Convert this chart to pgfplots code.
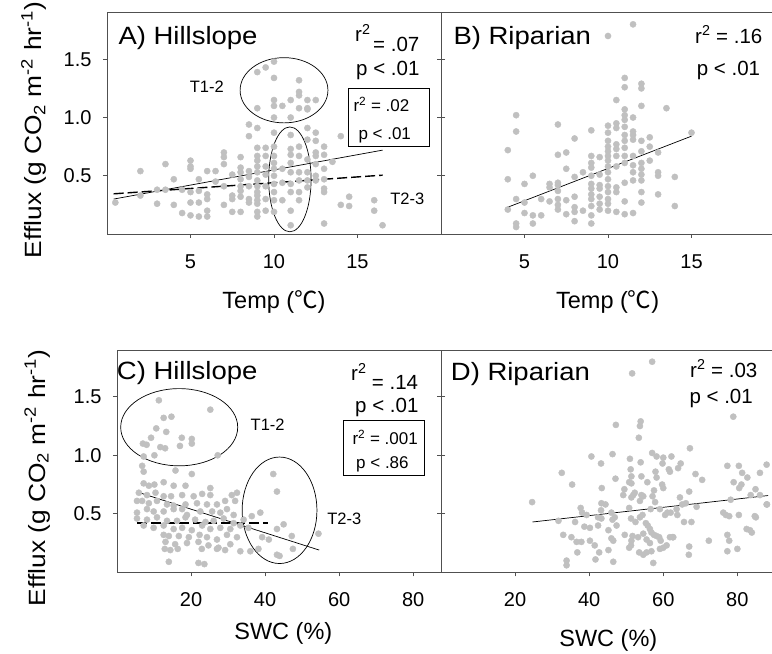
\documentclass[border=0pt]{standalone}
\usepackage{graphicx}
\usepackage{fontspec}
\setmainfont{Liberation Sans}
\newfontfamily\cjk{Noto Sans CJK SC}
\usepackage{pgfplots}
\pgfplotsset{compat=1.18}
\definecolor{dotgray}{RGB}{192,192,192}
\definecolor{axgray}{RGB}{80,80,80}

\newcommand{\titlefont}{\fontsize{25}{30}\selectfont}
\newcommand{\statfont}{\fontsize{20.5}{24}\selectfont}
\newcommand{\boxfont}{\fontsize{17}{20}\selectfont}
\newcommand{\tfont}{\fontsize{16.5}{20}\selectfont}
\newcommand{\labfont}{\fontsize{23.5}{28}\selectfont}
\newcommand{\ttl}[1]{\scalebox{1.1}[1]{#1}}
\newcommand{\efflux}{\scalebox{1.12}[1]{Efflux (g CO\textsubscript{2} m\textsuperscript{-2} hr\textsuperscript{-1})}}

\pgfplotsset{
  panel/.style={
    scale only axis, anchor=south west, clip=false,
    axis line style={axgray, line width=0.9pt},
    tick style={axgray, line width=0.8pt},
    major tick length=4pt, tick align=outside,
    xtick pos=bottom, ytick pos=both, yticklabel pos=left,
    ymin=0, ymax=1.9, ytick={0.5,1,1.5},
    /pgf/number format/assume math mode=true,
    tick label style={font=\fontsize{20}{24}\selectfont},
    yticklabel style={/pgf/number format/fixed, /pgf/number format/fixed zerofill,
      /pgf/number format/precision=1, xshift=-8pt},
    xticklabel style={yshift=-13pt},
  },
  dots/.style={only marks, mark=*, mark size=3.1pt, color=dotgray,
    mark options={draw=none, fill=dotgray}},
  fit/.style={black, line width=0.7pt},
  fitdash/.style={black, line width=1.4pt, dash pattern=on 10pt off 4pt},
}

\begin{document}
\begin{tikzpicture}[x=1pt, y=1pt]

% A) Hillslope, temperature
\begin{axis}[panel, at={(107pt,420pt)}, width=334pt, height=221.3pt,
  xmin=0, xmax=20, xtick={5,10,15}]
\addplot[dots] coordinates {
(0.5,0.27)(2,0.54)(2,0.33)(3,0.38)(3,0.26)(3.5,0.60)(3.5,0.38)(4,0.47)(4,0.25)(4.5,0.38)(4.5,0.18)
(5,0.63)(5,0.58)(5,0.56)(5,0.36)(5,0.27)(5,0.16)
(5.5,0.47)(5.5,0.37)(5.5,0.27)(5.5,0.15)
(6,0.54)(6,0.34)(6,0.30)(6,0.20)(6,0.15)
(6.5,0.54)(6.5,0.45)
(7,0.70)(7,0.66)(7,0.60)(7,0.41)(7,0.25)
(7.5,0.51)(7.5,0.33)(7.5,0.30)(7.5,0.19)
(8,0.66)(8,0.57)(8,0.53)(8,0.47)(8,0.41)(8,0.37)(8,0.32)(8,0.19)
(8.5,0.94)(8.5,0.84)(8.5,0.54)(8.5,0.49)(8.5,0.41)(8.5,0.30)(8.5,0.27)
(9,1.39)(9,1.08)(9,0.91)(9,0.74)(9,0.67)(9,0.63)(9,0.58)(9,0.53)(9,0.46)(9,0.41)(9,0.36)(9,0.33)(9,0.29)(9,0.26)(9,0.19)(9,0.15)
(9.5,1.43)(9.5,0.74)(9.5,0.67)(9.5,0.58)(9.5,0.51)(9.5,0.41)(9.5,0.30)(9.5,0.20)
(10,1.48)(10,1.34)(10,1.15)(10,1.10)(10,1.00)(10,0.87)(10,0.75)(10,0.67)(10,0.61)(10,0.56)(10,0.50)(10,0.43)(10,0.36)(10,0.29)(10,0.19)
(10.5,1.10)(10.5,0.56)(10.5,0.44)(10.5,0.29)
(11,1.15)(11,1.00)(11,0.85)(11,0.73)(11,0.68)(11,0.61)(11,0.53)(11,0.43)(11,0.36)(11,0.20)(11,0.075)
(11.5,1.32)(11.5,1.22)(11.5,1.19)(11.5,1.08)(11.5,0.75)(11.5,0.67)(11.5,0.53)(11.5,0.46)(11.5,0.36)(11.5,0.29)
(12,1.15)(12,1.08)(12,1.07)(12,0.91)(12,0.81)(12,0.64)(12,0.53)(12,0.46)(12,0.40)
(12.5,1.15)(12.5,0.87)(12.5,0.80)(12.5,0.70)(12.5,0.67)(12.5,0.60)(12.5,0.50)(12.5,0.46)
(13,0.75)(13,0.68)(13,0.56)(13,0.47)(13,0.39)(13,0.36)(13,0.09)
(13.5,0.62)(14,0.84)(14,0.25)(14.5,0.32)(14.5,0.24)(16,0.29)(16,0.20)(16.5,0.075)
};
\addplot[fit] coordinates {(0.4,0.30)(16.5,0.72)};
\addplot[fitdash] coordinates {(0.4,0.345)(16.5,0.505)};
\draw[black, line width=0.7pt] (axis cs:10.6,1.234) ellipse [x radius=2.63, y radius=0.28];
\draw[black, line width=0.7pt] (axis cs:10.95,0.469) ellipse [x radius=1.27, y radius=0.45];
\node[font=\tfont] at (axis cs:5.98,1.26) {T1-2};
\node[font=\tfont] at (axis cs:17.98,0.30) {T2-3};
\end{axis}

% B) Riparian, temperature
\begin{axis}[panel, at={(441pt,420pt)}, width=334pt, height=221.3pt,
  xmin=0, xmax=20, xtick={5,10,15}, yticklabels={}]
\addplot[dots] coordinates {
(4,0.72)(4,0.47)(4,0.21)(4.5,1.02)(4.5,0.88)(4.5,0.30)(4.5,0.09)(4.5,0.06)
(5,0.27)(5,0.18)(5,0.43)(5.5,0.50)(5.5,0.16)(5.5,0.09)(6,0.30)(6,0.16)
(6.5,0.43)(6.5,0.40)(6.5,0.28)
(7,0.94)(7,0.68)(7,0.44)(7,0.42)(7,0.37)(7,0.30)(7,0.25)(7,0.21)
(7.5,0.70)(7.5,0.56)(7.5,0.29)(7.5,0.17)
(8,0.82)(8,0.49)(8,0.32)(8,0.23)(8,0.19)(8,0.11)
(8.5,0.53)(8.5,0.20)
(9,0.89)(9,0.67)(9,0.61)(9,0.57)(9,0.50)(9,0.43)(9,0.39)(9,0.34)(9,0.30)(9,0.24)(9,0.16)(9,0.09)
(9.5,0.66)(9.5,0.51)(9.5,0.42)(9.5,0.39)(9.5,0.32)(9.5,0.26)(9.5,0.21)
(10,1.70)(10,0.93)(10,0.87)(10,0.80)(10,0.75)(10,0.71)(10,0.67)(10,0.63)(10,0.58)(10,0.53)(10,0.47)(10,0.41)(10,0.36)(10,0.30)(10,0.26)(10,0.20)
(10.5,1.15)(10.5,0.95)(10.5,0.91)(10.5,0.77)(10.5,0.73)(10.5,0.67)(10.5,0.58)(10.5,0.40)(10.5,0.36)(10.5,0.19)
(11,1.34)(11,1.26)(11,1.07)(11,1.02)(11,0.98)(11,0.92)(11,0.85)(11,0.80)(11,0.74)(11,0.67)(11,0.61)(11,0.44)(11,0.28)(11,0.17)
(11.5,1.80)(11.5,1.00)(11.5,0.88)(11.5,0.85)(11.5,0.81)(11.5,0.67)(11.5,0.59)(11.5,0.53)(11.5,0.46)(11.5,0.18)
(12,1.29)(12,1.25)(12,1.10)(12,0.80)(12,0.71)(12,0.61)(12,0.56)(12,0.51)(12,0.46)(12,0.36)(12,0.27)
(12.5,0.83)(12.5,0.75)(12.5,0.63)
(13,0.70)(13,0.53)(13,0.50)(13,0.34)
(13.5,1.08)(14,0.49)(14,0.24)(15,0.87)
};
\addplot[fit] coordinates {(4,0.23)(15,0.84)};
\end{axis}

% C) Hillslope, soil water content
\begin{axis}[panel, at={(117pt,81.7pt)}, width=324pt, height=222.3pt,
  xmin=0, xmax=87.5, xtick={20,40,60,80}]
\addplot[dots] coordinates {
(11.3,1.47)(12.6,1.32)(14.7,1.33)(10.6,1.23)(13.3,1.20)(25.2,1.39)(9.2,1.15)(11.7,1.07)(13.0,1.06)
(17.5,1.15)(20.2,1.14)(20.2,1.10)(17.0,1.08)(7.0,1.10)(8.0,1.09)(7.2,0.99)(10.1,1.00)(6.8,0.91)
(7.2,0.86)(15.8,0.87)(20.2,0.84)(27.2,1.00)
(7.2,0.76)(8.6,0.74)(10.1,0.75)(12.6,0.77)(15.3,0.74)(18.5,0.74)
(5.9,0.68)(8.1,0.66)(10.4,0.68)(12.6,0.65)(14.6,0.65)(17.6,0.66)(20.7,0.65)(23.0,0.67)(25.2,0.66)(25.2,0.72)
(5.4,0.61)(6.8,0.61)(8.6,0.59)(10.8,0.61)(13.5,0.58)(15.3,0.57)(18.5,0.58)(21.6,0.59)(24.3,0.58)(27.0,0.58)
(29.2,0.61)(31.0,0.66)(32.4,0.68)(31.9,0.61)
(5.4,0.51)(8.1,0.54)(9.9,0.52)(12.6,0.52)(15.3,0.54)(17.6,0.54)(18.9,0.49)(22.5,0.52)(25.7,0.52)(27.9,0.51)
(29.7,0.54)(31.5,0.49)
(5.4,0.46)(8.1,0.45)(10.8,0.47)(13.5,0.44)(16.2,0.44)(18.5,0.47)(21.1,0.45)(23.9,0.43)(26.1,0.44)(28.8,0.46)
(31.5,0.42)(34.2,0.45)(36.4,0.48)(38.7,0.51)
(7.2,0.40)(9.9,0.38)(12.6,0.40)(15.3,0.37)(17.6,0.38)(20.2,0.36)(23.0,0.40)(25.2,0.37)(27.9,0.38)(30.6,0.37)
(33.3,0.40)(35.5,0.38)(45.0,0.41)
(12.6,0.32)(14.0,0.31)(16.7,0.31)(19.4,0.30)(22.3,0.32)(24.3,0.30)(27.0,0.28)(29.7,0.32)(32.4,0.30)(39.2,0.30)
(41.0,0.28)(43.2,0.37)(47.2,0.31)(54.4,0.33)
(13.1,0.26)(15.7,0.24)(18.9,0.25)(22.0,0.26)(24.7,0.23)(27.4,0.21)(30.6,0.24)
(12.9,0.20)(14.4,0.19)(16.4,0.20)(22.9,0.20)(27.0,0.20)(29.2,0.19)(33.3,0.18)(36.0,0.18)(38.2,0.20)
(43.2,0.15)(43.9,0.14)(47.5,0.20)(14.0,0.09)(22.0,0.08)(23.6,0.07)(42.2,0.84)(43.2,0.69)
};
\addplot[fit] coordinates {(5.7,0.684)(54.6,0.19)};
\addplot[fitdash] coordinates {(5.4,0.423)(40.9,0.423)};
\draw[black, line width=0.7pt] (axis cs:16.8,1.24) ellipse [x radius=15.8, y radius=0.33];
\draw[black, line width=0.7pt] (axis cs:43.9,0.53) ellipse [x radius=10.1, y radius=0.455];
\node[font=\tfont] at (axis cs:40.7,1.265) {T1-2};
\node[font=\tfont] at (axis cs:61.4,0.46) {T2-3};
\end{axis}

% D) Riparian, soil water content
\begin{axis}[panel, at={(441pt,81.7pt)}, width=333.4pt, height=222.3pt,
  xmin=0, xmax=90, xtick={20,40,60,80}, yticklabels={}]
\addplot[dots] coordinates {
(57.0,1.80)(51.6,1.70)(78.9,1.33)(47.2,1.26)(53.9,1.29)(53.7,1.25)(53.4,1.15)
(40.6,0.99)(43.2,0.93)(46.3,1.01)(51.0,0.97)(53.9,0.94)(57.0,1.02)(58.2,0.99)(60.0,0.98)(59.8,0.93)
(62.2,0.99)(61.5,0.88)(61.8,0.86)(64.0,0.89)(64.7,0.93)(67.2,1.06)
(32.6,0.85)(35.4,0.75)(47.1,0.80)(51.2,0.88)(51.4,0.82)(50.8,0.77)(51.4,0.76)(54.1,0.82)(55.7,0.77)
(57.9,0.86)(58.2,0.81)(59.7,0.75)(60.0,0.72)(57.5,0.70)(68.7,0.84)(70.5,0.79)
(77.3,0.91)(80.4,0.91)(81.3,0.85)(82.7,0.81)(86.1,0.85)(87.9,0.92)(79.0,0.77)(81.1,0.75)(80.5,0.72)
(84.9,0.71)(83.6,0.66)(86.1,0.66)(87.9,0.58)(78.2,0.62)
(43.4,0.72)(49.5,0.71)(49.2,0.66)(51.4,0.64)(51.9,0.66)(52.3,0.68)(54.1,0.66)(54.6,0.65)(53.7,0.61)
(57.1,0.65)(57.8,0.60)(64.5,0.64)(67.0,0.69)
(24.6,0.60)(43.3,0.59)(44.4,0.58)(46.0,0.51)(46.9,0.47)(46.3,0.45)(43.2,0.53)(42.4,0.47)(43.3,0.46)
(37.7,0.55)(38.1,0.51)(39.3,0.49)(36.2,0.43)(31.7,0.44)
(50.8,0.55)(51.3,0.46)(52.5,0.43)(53.7,0.47)(54.4,0.49)(56.6,0.54)(59.1,0.54)(61.1,0.51)(60.5,0.49)
(62.0,0.51)(63.6,0.54)(63.8,0.49)(65.1,0.58)(66.1,0.59)(69.0,0.56)(65.6,0.43)(67.6,0.43)
(76.2,0.51)(76.9,0.49)(77.8,0.48)(80.4,0.49)(84.7,0.48)(85.0,0.47)(88.0,0.58)
(38.7,0.39)(40.2,0.38)(42.4,0.40)(45.2,0.36)(47.4,0.40)(49.6,0.32)(51.7,0.31)(51.4,0.27)(53.2,0.30)
(54.6,0.33)(55.3,0.42)(55.8,0.40)(56.4,0.37)(56.8,0.34)(57.5,0.32)(58.2,0.31)(58.9,0.30)(55.5,0.28)
(56.4,0.25)(59.3,0.27)(59.1,0.20)(60.0,0.21)(60.9,0.23)(62.7,0.30)(67.0,0.22)(66.9,0.15)(72.3,0.27)
(77.3,0.32)(77.8,0.27)(77.3,0.18)(80.0,0.20)(82.5,0.37)(83.9,0.34)(83.4,0.36)
(33.0,0.32)(35.2,0.30)(36.6,0.26)(37.9,0.26)(40.2,0.27)(41.5,0.23)(42.7,0.17)(41.7,0.11)(45.2,0.19)
(46.0,0.29)(46.5,0.27)(46.5,0.09)(36.8,0.17)(33.9,0.10)(33.9,0.06)
(50.8,0.21)(51.3,0.23)(53.5,0.17)(54.6,0.15)(55.5,0.17)(56.8,0.18)(57.3,0.08)(61.8,0.30)(62.5,0.30)
};
\addplot[fit] coordinates {(24.7,0.43)(88.3,0.656)};
\end{axis}

% panel titles and statistics
\node[font=\titlefont, anchor=base west, inner sep=0] at (118.3,609.7) {\ttl{A) Hillslope}};
\node[font=\statfont, anchor=base west, inner sep=0] at (355,612.3) {r\textsuperscript{2}};
\node[font=\statfont, anchor=base west, inner sep=0] at (373,602.3) {= .07};
\node[font=\statfont, anchor=base west, inner sep=0] at (356,578) {p < .01};
\draw[black, line width=0.8pt] (348,508) rectangle (429,566);
\node[font=\boxfont, anchor=base west, inner sep=0] at (353.3,542.3) {r\textsuperscript{2} = .02};
\node[font=\boxfont, anchor=base west, inner sep=0] at (358.3,514) {p < .01};

\node[font=\titlefont, anchor=base west, inner sep=0] at (453.3,609) {\ttl{B) Riparian}};
\node[font=\statfont, anchor=base west, inner sep=0] at (695,610.7) {r\textsuperscript{2} = .16};
\node[font=\statfont, anchor=base west, inner sep=0] at (696.7,578) {p < .01};

\node[font=\titlefont, anchor=base west, inner sep=0] at (116.7,274) {\ttl{C) Hillslope}};
\node[font=\statfont, anchor=base west, inner sep=0] at (351,273) {r\textsuperscript{2}};
\node[font=\statfont, anchor=base west, inner sep=0] at (371.7,264.7) {= .14};
\node[font=\statfont, anchor=base west, inner sep=0] at (355,241.3) {p < .01};
\draw[black, line width=0.8pt] (343.3,178.3) rectangle (424.3,234);
\node[font=\boxfont, anchor=base west, inner sep=0] at (352.3,209) {r\textsuperscript{2} = .001};
\node[font=\boxfont, anchor=base west, inner sep=0] at (356,185.7) {p < .86};

\node[font=\titlefont, anchor=base west, inner sep=0] at (450.7,273) {\ttl{D) Riparian}};
\node[font=\statfont, anchor=base west, inner sep=0] at (690,276.7) {r\textsuperscript{2} = .03};
\node[font=\statfont, anchor=base west, inner sep=0] at (689.3,250.7) {p < .01};

% axis labels
\node[font=\labfont, anchor=base, inner sep=0] at (274,345.7) {Temp ({\cjk ℃})};
\node[font=\labfont, anchor=base, inner sep=0] at (607.7,345.7) {Temp ({\cjk ℃})};
\node[font=\labfont, anchor=base, inner sep=0] at (283.3,14) {SWC (\%)};
\node[font=\labfont, anchor=base, inner sep=0] at (608.3,7.3) {SWC (\%)};
\node[font=\labfont, anchor=base, inner sep=0, rotate=90] at (41.7,524) {\efflux};
\node[font=\labfont, anchor=base, inner sep=0, rotate=90] at (45,176) {\efflux};

\pgfresetboundingbox
\path[use as bounding box] (0,0) rectangle (772,654);
\end{tikzpicture}
\end{document}
